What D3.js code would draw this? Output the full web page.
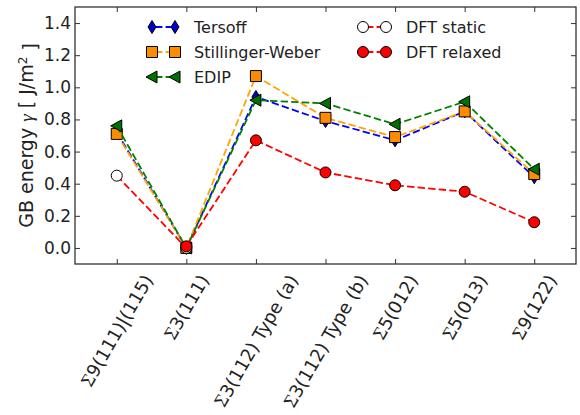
<!DOCTYPE html>
<html>
<head>
<meta charset="utf-8">
<script src="https://cdn.jsdelivr.net/npm/d3@7"></script>
<style>
  body { margin: 0; background: #fff; }
  text { font-family: "DejaVu Sans", sans-serif; fill: #222; }
</style>
</head>
<body>
<div id="chart"></div>
<script>
// grain boundary labels and energies
var boundaries = ["9(111)|(115)", "3(111)", "3(112) Type (a)", "3(112) Type (b)", "5(012)", "5(013)", "9(122)"];
var tersoff    = [0.72, 0.00, 0.94, 0.79, 0.67, 0.85, 0.44];
var stillinger = [0.71, 0.00, 1.07, 0.81, 0.69, 0.85, 0.46];
var edip       = [0.76, 0.00, 0.92, 0.90, 0.77, 0.91, 0.49];
var dftStatic  = [0.45, 0.00, null, null, null, null, null];
var dftRelaxed = [null, 0.01, 0.67, 0.47, 0.39, 0.35, 0.16];
var yTicks = [0.0, 0.2, 0.4, 0.6, 0.8, 1.0, 1.2, 1.4];

var width = 580, height = 415;
var plotLeft = 75, plotRight = 576, plotTop = 7, plotBottom = 264;

var svg = d3.select("#chart").append("svg")
  .attr("width", width)
  .attr("height", height);

var x = d3.scaleLinear().domain([-0.6, 6.6]).range([plotLeft, plotRight]);
var y = d3.scaleLinear().domain([-0.1, 1.5]).range([plotBottom, plotTop]);

// series styles (line colour, marker fill, marker shape)
var series = [
  { name: "Tersoff", values: tersoff, line: "#0000ff", fill: "#0000c8", shape: "diamond" },
  { name: "Stillinger-Weber", values: stillinger, line: "#ffa500", fill: "#ff8c00", shape: "square" },
  { name: "EDIP", values: edip, line: "#008000", fill: "#007000", shape: "triangle" },
  { name: "DFT static", values: dftStatic, line: "#ff0000", fill: "#ffffff", shape: "circle" },
  { name: "DFT relaxed", values: dftRelaxed, line: "#ff0000", fill: "#ff0000", shape: "circle" }
];

function markerPath(shape) {
  if (shape == "diamond") return "M0,-6.5L4,0L0,6.5L-4,0Z";
  if (shape == "square") return "M-5.5,-5.5H5.5V5.5H-5.5Z";
  if (shape == "triangle") return "M-6,0L5,-6L5,6Z";
  return d3.symbol().type(d3.symbolCircle).size(Math.PI * 5.5 * 5.5)();
}

// frame
svg.append("rect")
  .attr("x", plotLeft).attr("y", plotTop)
  .attr("width", plotRight - plotLeft).attr("height", plotBottom - plotTop)
  .attr("fill", "none").attr("stroke", "#333").attr("stroke-width", 1.3);

// ticks on all four sides, pointing in
var idx = d3.range(boundaries.length);
svg.append("g").attr("transform", "translate(0," + plotBottom + ")")
  .call(d3.axisBottom(x).tickValues(idx).tickSize(-5).tickFormat(""));
svg.append("g").attr("transform", "translate(0," + plotTop + ")")
  .call(d3.axisTop(x).tickValues(idx).tickSize(-5).tickFormat(""));
svg.append("g").attr("transform", "translate(" + plotRight + ",0)")
  .call(d3.axisRight(y).tickValues(yTicks).tickSize(-5).tickFormat(""));
var yAxis = svg.append("g").attr("transform", "translate(" + plotLeft + ",0)")
  .call(d3.axisLeft(y).tickValues(yTicks).tickSize(-5).tickPadding(4).tickFormat(d3.format(".1f")));
svg.selectAll(".domain").remove();
svg.selectAll(".tick line").attr("stroke", "#333");
yAxis.selectAll("text").style("font-size", "17px").attr("fill", "#222");

// rotated x labels, centred under each tick
idx.forEach(function(i) {
  var g = svg.append("g");
  var t = g.append("text")
    .attr("transform", "rotate(-60)")
    .attr("text-anchor", "end")
    .style("font-size", "18px");
  t.append("tspan").style("font-family", "Liberation Serif").style("font-size", "19px").text("\u03A3");
  t.append("tspan").text(boundaries[i]);
  var b = g.node().getBoundingClientRect();
  g.attr("transform", "translate(" + (x(i) - (b.left + b.right) / 2) + "," + (271 - b.top) + ")");
});

// y label
var yl = svg.append("text")
  .attr("transform", "translate(33," + ((plotTop + plotBottom) / 2) + ")rotate(-90)")
  .attr("text-anchor", "middle")
  .style("font-size", "19px");
yl.append("tspan").text("GB energy ");
yl.append("tspan").style("font-family", "Liberation Serif").style("font-style", "italic").text("\u03B3");
yl.append("tspan").text(" [ J/m");
yl.append("tspan").attr("dy", "-0.5em").style("font-size", "12px").text("2");
yl.append("tspan").attr("dy", "0.5em").text(" ]");

// lines and markers, one series at a time
var line = d3.line()
  .defined(function(d) { return d != null; })
  .x(function(d, i) { return x(i); })
  .y(function(d) { return y(d); });

series.forEach(function(s) {
  svg.append("path")
    .attr("d", line(s.values))
    .attr("fill", "none")
    .attr("stroke", s.line)
    .attr("stroke-width", 1.8)
    .attr("stroke-dasharray", "7.4,3.2");
  svg.selectAll(null)
    .data(s.values.map(function(v, i) { return [i, v]; }).filter(function(p) { return p[1] != null; }))
    .enter().append("path")
    .attr("d", markerPath(s.shape))
    .attr("transform", function(p) { return "translate(" + x(p[0]) + "," + y(p[1]) + ")"; })
    .attr("fill", s.fill)
    .attr("stroke", "#000")
    .attr("stroke-width", 1);
});

// legend, two columns
var legendPos = [
  { mx: 152, tx: 194, y: 27 },
  { mx: 152, tx: 194, y: 52 },
  { mx: 152, tx: 194, y: 77 },
  { mx: 363, tx: 406, y: 27 },
  { mx: 363, tx: 406, y: 52 }
];
series.forEach(function(s, i) {
  var p = legendPos[i];
  var g = svg.append("g");
  g.append("line")
    .attr("x1", p.mx).attr("x2", p.mx + 23)
    .attr("y1", p.y).attr("y2", p.y)
    .attr("stroke", s.line).attr("stroke-width", 1.8)
    .attr("stroke-dasharray", "7.4,3.2")
    .attr("stroke-dashoffset", -3);
  [p.mx, p.mx + 23].forEach(function(mx) {
    g.append("path")
      .attr("d", markerPath(s.shape))
      .attr("transform", "translate(" + mx + "," + p.y + ")")
      .attr("fill", s.fill).attr("stroke", "#000").attr("stroke-width", 1);
  });
  g.append("text")
    .attr("x", p.tx).attr("y", p.y)
    .attr("dy", "0.36em")
    .style("font-size", "16px")
    .text(s.name);
});
</script>
</body>
</html>
